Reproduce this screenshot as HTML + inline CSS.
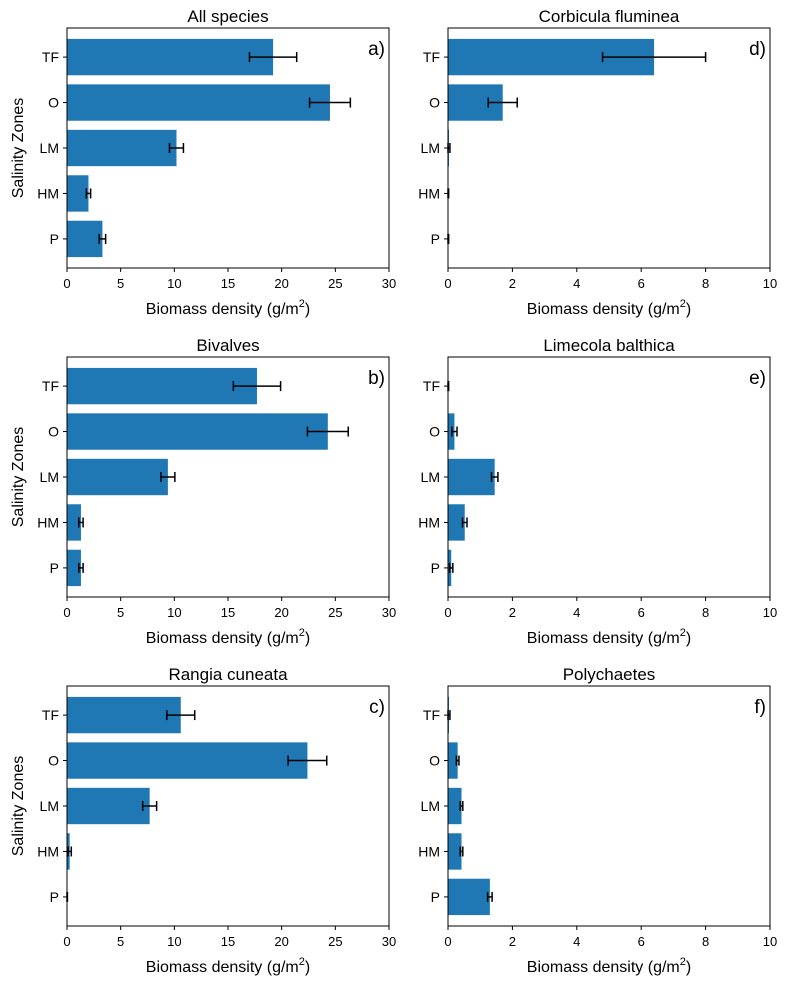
<!DOCTYPE html>
<html><head><meta charset="utf-8"><style>
body{margin:0;background:#fff;}
svg{display:block;font-family:"Liberation Sans","DejaVu Sans",sans-serif;}
</style></head><body>
<svg id="fig" width="786" height="983"></svg>
<script>
const categories = ["TF","O","LM","HM","P"];
const titles = ["All species","Bivalves","Rangia cuneata","Corbicula fluminea","Limecola balthica","Polychaetes"];
const letters = ["a)","b)","c)","d)","e)","f)"];
const xMaxes = [30,30,30,10,10,10];
const xTicksLeft = [0,5,10,15,20,25,30];
const xTicksRight = [0,2,4,6,8,10];
const valsA = [19.2,24.5,10.2,2.0,3.3];
const errA  = [2.2,1.9,0.65,0.2,0.3];
const valsB = [17.7,24.3,9.4,1.3,1.3];
const errB  = [2.2,1.9,0.65,0.2,0.2];
const valsC = [10.6,22.4,7.7,0.25,0.02];
const errC  = [1.3,1.8,0.65,0.15,0.02];
const valsD = [6.4,1.7,0.03,0.01,0.01];
const errD  = [1.6,0.45,0.03,0.01,0.01];
const valsE = [0.01,0.2,1.45,0.52,0.1];
const errE  = [0.01,0.08,0.1,0.07,0.05];
const valsF = [0.03,0.3,0.42,0.42,1.3];
const errF  = [0.03,0.04,0.04,0.04,0.07];

const NS="http://www.w3.org/2000/svg";
const svg=document.getElementById('fig');
function mk(tag,attrs,parent,text){const e=document.createElementNS(NS,tag);for(const k in attrs)e.setAttribute(k,attrs[k]);if(text!==undefined)e.textContent=text;(parent||svg).appendChild(e);return e;}

const panels=[
 {x:67,y:28,v:valsA,e:errA},{x:67,y:357,v:valsB,e:errB},{x:67,y:686,v:valsC,e:errC},
 {x:448,y:28,v:valsD,e:errD},{x:448,y:357,v:valsE,e:errE},{x:448,y:686,v:valsF,e:errF}];
const W=322,H=240;
panels.forEach((p,i)=>{
  const g=mk('g',{});
  
  
  const xm=xMaxes[i];
  const xs=v=>p.x+v/xm*W;
  const unit=H/5.28;
  const ys=k=>p.y+(0.64+k)*unit;
  categories.forEach((c,k)=>{
    const r=mk('rect',{x:p.x,y:ys(k)-0.4*unit,width:Math.max(0,xs(p.v[k])-p.x),height:0.8*unit,fill:'#1f77b4'},g);
    
    
    const x1=xs(Math.max(0,p.v[k]-p.e[k])),x2=xs(p.v[k]+p.e[k]),yc=ys(k);
    const eb=mk('g',{stroke:'#000','stroke-width':1.5},g);
    
    
    mk('line',{x1:x1,x2:x2,y1:yc,y2:yc},eb);
    mk('line',{x1:x1,x2:x1,y1:yc-5,y2:yc+5},eb);
    mk('line',{x1:x2,x2:x2,y1:yc-5,y2:yc+5},eb);
    mk('line',{x1:p.x,x2:p.x-4,y1:yc,y2:yc,stroke:'#000'},g);
    const t=mk('text',{x:p.x-8,y:yc+5,'text-anchor':'end','font-size':14},g,c);
    
    
  });
  const ticks=xm===30?xTicksLeft:xTicksRight;
  ticks.forEach(tv=>{
    mk('line',{x1:xs(tv),x2:xs(tv),y1:p.y+H,y2:p.y+H+4,stroke:'#000'},g);
    const t=mk('text',{x:xs(tv),y:p.y+H+20,'text-anchor':'middle','font-size':13},g,String(tv));
    
    
  });
  const fr=mk('rect',{x:p.x,y:p.y,width:W,height:H,fill:'none',stroke:'#000','stroke-width':1},g);
  
  
  const tt=mk('text',{x:p.x+W/2,y:p.y-6,'text-anchor':'middle','font-size':17},g,titles[i]);
  
  
  const lt=mk('text',{x:p.x+W-4,y:p.y+27,'text-anchor':'end','font-size':19},g,letters[i]);
  
  
  const xl=mk('text',{x:p.x+W/2,y:p.y+H+46,'text-anchor':'middle','font-size':16},g);
  
  
  mk('tspan',{},xl,'Biomass density (g/m');
  mk('tspan',{'font-size':11,dy:-7},xl,'2');
  mk('tspan',{dy:7},xl,')');
  if(i<3){
    const yl=mk('text',{x:0,y:0,transform:`translate(23,${p.y+H/2}) rotate(-90)`,'text-anchor':'middle','font-size':16},g,'Salinity Zones');
    
    
  }
});
</script>
</body></html>
